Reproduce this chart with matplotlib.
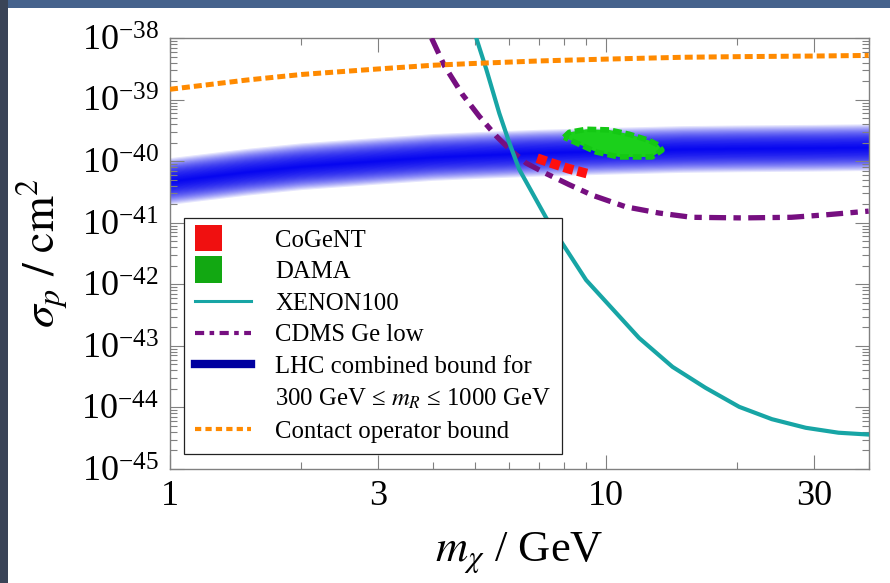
import numpy as np
import matplotlib
matplotlib.use("Agg")
import matplotlib.pyplot as plt
import matplotlib.patches as mpatches
from matplotlib.lines import Line2D
from matplotlib.legend_handler import HandlerPatch
from matplotlib.ticker import LogLocator, FixedLocator, FixedFormatter, NullFormatter

plt.rcParams['font.family'] = ['Liberation Serif', 'DejaVu Serif']
plt.rcParams['mathtext.fontset'] = 'stix'

# m_chi in GeV, values are log10(sigma_p / cm^2)
m_contact = [1, 1.5, 2, 3, 4, 5, 7, 10, 15, 20, 30, 40]
s_contact = [-38.83, -38.68, -38.59, -38.50, -38.44, -38.41, -38.37, -38.34,
             -38.31, -38.30, -38.29, -38.28]

m_lhc = [1, 1.5, 2, 3, 4, 5, 7, 10, 15, 20, 30, 40]
s_lhc = [-40.32, -40.17, -40.08, -39.99, -39.93, -39.90, -39.86, -39.83,
         -39.80, -39.79, -39.78, -39.77]

m_xenon = [5.04, 5.31, 5.69, 6.0, 6.32, 7.29, 7.93, 9.0, 11.9, 14.2, 16.9,
           20.2, 24.0, 28.7, 34.1, 40]
s_xenon = [-38.0, -38.50, -39.22, -39.70, -40.13, -40.92, -41.33, -41.93,
           -42.87, -43.34, -43.68, -43.99, -44.19, -44.33, -44.41, -44.44]

m_cdms = [3.98, 4.26, 4.68, 5.12, 5.6, 6.0, 6.56, 7.29, 7.8, 8.23, 9.29,
          11.1, 13.2, 15.7, 20.5, 26.6, 31.9, 40]
s_cdms = [-38.0, -38.45, -38.91, -39.27, -39.59, -39.80, -40.03, -40.20,
          -40.30, -40.38, -40.55, -40.74, -40.84, -40.91, -40.92, -40.91,
          -40.87, -40.81]

m_dama = [8.01, 8.23, 9.0, 10.16, 11.29, 12.54, 13.2, 13.43, 12.74, 10.7,
          9.49, 8.54, 8.01]
s_dama = [-39.61, -39.53, -39.48, -39.49, -39.56, -39.66, -39.74, -39.82,
          -39.93, -39.93, -39.85, -39.70, -39.61]

m_cogent = [6.95, 7.5, 8.2, 9.05]
s_cogent = [-39.95, -40.03, -40.12, -40.20]

fig = plt.figure(figsize=(8.9, 5.83), dpi=100, facecolor='#45628c')
fig.patches.append(mpatches.Rectangle((0, 0), 8 / 890, 1, transform=fig.transFigure,
                                      facecolor='#3a4457', edgecolor='none', zorder=-2))
fig.patches.append(mpatches.Rectangle((8 / 890, 0), 1, 1 - 8 / 583, transform=fig.transFigure,
                                      facecolor='white', edgecolor='none', zorder=-2))
ax = fig.add_axes([0.191, 0.1955, 0.785, 0.739])

# LHC band: stacked translucent layers give the soft edge
mb = np.array(m_lhc)
cb = np.array(s_lhc)
for k in range(1, 31):
    w = 0.38 * (k / 30) ** 1.5
    ax.fill_between(mb, 10 ** (cb - w), 10 ** (cb + w), color='#0000f0',
                    alpha=0.1, lw=0, zorder=1)

ax.fill(m_dama, 10 ** np.array(s_dama), color='#1bd01b', lw=0, zorder=2)
ax.plot(m_dama, 10 ** np.array(s_dama), color='#14c814', lw=4, ls=(0, (1.6, 0.7)), zorder=2)
ax.plot(m_cogent, 10 ** np.array(s_cogent), color='#ff1010', lw=7, ls=(0, (1.0, 0.45)), zorder=2)

ax.plot(m_cdms, 10 ** np.array(s_cdms), color='#760f80', lw=3.8,
        ls=(0, (3.2, 1.4, 1.4, 1.4)), zorder=3)
ax.plot(m_xenon, 10 ** np.array(s_xenon), color='#17a5a5', lw=3, zorder=4)
ax.plot(m_contact, 10 ** np.array(s_contact), color='#ff8a00', lw=3.6,
        ls=(0, (1.6, 0.8)), zorder=5)

ax.set_xscale('log')
ax.set_yscale('log')
ax.set_xlim(1, 40)
ax.set_ylim(1e-45, 1e-38)
ax.xaxis.set_major_locator(FixedLocator([1, 3, 10, 30]))
ax.xaxis.set_major_formatter(FixedFormatter(['1', '3', '10', '30']))
ax.xaxis.set_minor_locator(FixedLocator([2, 4, 5, 6, 7, 8, 9, 20, 40]))
ax.xaxis.set_minor_formatter(NullFormatter())
ax.yaxis.set_major_locator(LogLocator(base=10, numticks=20))
ax.yaxis.set_minor_locator(LogLocator(base=10, subs=np.arange(2, 10), numticks=20))
ax.yaxis.set_minor_formatter(NullFormatter())

ax.tick_params(which='both', direction='in', top=True, right=True, color='#808080')
ax.tick_params(which='major', length=10, width=0.8, labelsize=26, pad=8)
ax.tick_params(which='minor', length=5, width=0.8)
for sp in ax.spines.values():
    sp.set_color('#808080')
    sp.set_linewidth(1.0)

ax.set_xlabel(r'$m_\chi$ / GeV', fontsize=32, labelpad=12)
ax.set_ylabel(r'$\sigma_p\ /\ \mathrm{cm}^2$', fontsize=33, labelpad=8)


def square(legend, orig_handle, xdescent, ydescent, width, height, fontsize):
    s = 1.55 * height
    return mpatches.Rectangle((-xdescent, -ydescent + height / 2 - s / 2), s, s)


handles = [
    mpatches.Patch(facecolor='#f01010', edgecolor='none'),
    mpatches.Patch(facecolor='#12a812', edgecolor='none'),
    Line2D([], [], color='#17a5a5', lw=2.2),
    Line2D([], [], color='#760f80', lw=3, ls=(0, (2.2, 1.3, 1.1, 1.3))),
    Line2D([], [], color='#0000a0', lw=6),
    Line2D([], [], color='none'),
    Line2D([], [], color='#ff8a00', lw=3, ls=(0, (1.5, 1.0))),
]
labels = ['CoGeNT', 'DAMA', 'XENON100', 'CDMS Ge low', 'LHC combined bound for',
          '300 GeV ≤ $m_R$ ≤ 1000 GeV', 'Contact operator bound']
hm = {handles[0]: HandlerPatch(patch_func=square), handles[1]: HandlerPatch(patch_func=square)}
leg = ax.legend(handles, labels, handler_map=hm, loc='lower left',
                bbox_to_anchor=(0.02, 0.035), borderaxespad=0, fontsize=17.8,
                handlelength=2.25, handletextpad=1.0, labelspacing=0.373,
                borderpad=0.45, fancybox=False, framealpha=1)
leg.get_frame().set_edgecolor('#222222')
leg.get_frame().set_linewidth(0.9)
leg.set_zorder(10)

fig.savefig('out.png', dpi=100, facecolor=fig.get_facecolor())
